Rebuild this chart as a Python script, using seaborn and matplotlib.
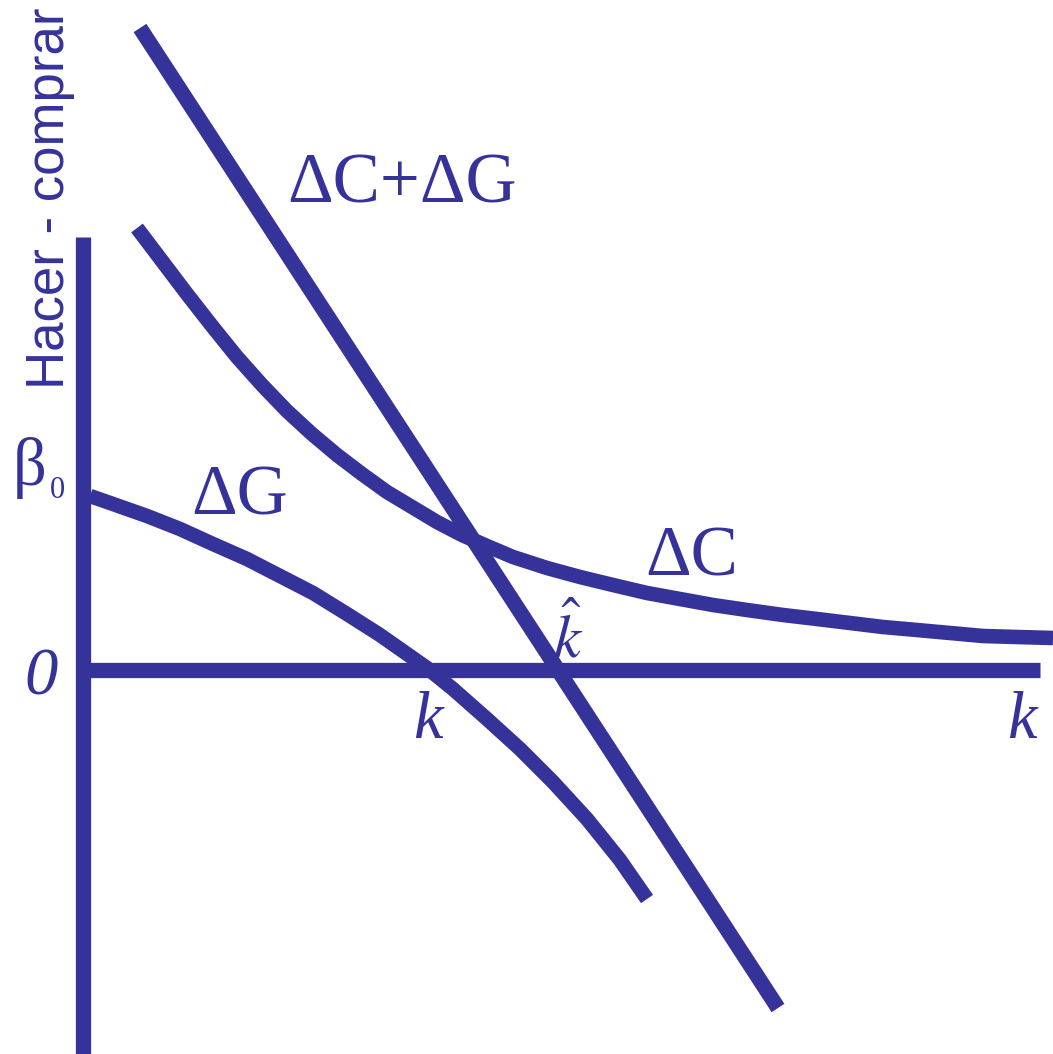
import matplotlib
matplotlib.use("Agg")
import matplotlib.pyplot as plt
import seaborn as sns
import pandas as pd

sns.set_style("white")
plt.rcParams['font.family'] = ['Liberation Serif', 'DejaVu Serif']

COLOR = "#35339A"

# Curves (x, y); origin at the axes crossing
dc_x = [0.54, 0.79, 1.04, 1.29, 1.54, 1.79, 2.04, 2.29, 2.54, 2.79, 3.04, 3.29, 3.54, 3.79, 4.04,
        4.30, 4.64, 4.97, 5.30, 5.64, 5.97, 6.30, 6.64, 7.00, 7.34, 7.67, 8.00, 8.34, 8.67, 9.00, 9.34, 9.70]
dc_y = [4.42, 4.09, 3.76, 3.44, 3.13, 2.85, 2.59, 2.36, 2.15, 1.96, 1.78, 1.63, 1.48, 1.35, 1.24,
        1.13, 1.02, 0.93, 0.85, 0.77, 0.71, 0.65, 0.60, 0.55, 0.51, 0.47, 0.43, 0.40, 0.37, 0.34, 0.33, 0.32]

dg_x = [0.07, 0.30, 0.64, 0.97, 1.30, 1.64, 1.97, 2.30, 2.64, 2.97, 3.44, 3.70, 4.04, 4.37, 4.70, 5.04, 5.37, 5.64]
dg_y = [1.74, 1.66, 1.54, 1.41, 1.26, 1.11, 0.94, 0.77, 0.56, 0.35, 0.02, -0.19, -0.49, -0.79, -1.12, -1.49, -1.90, -2.29]

sum_x = [0.57, 6.95]
sum_y = [6.42, -3.38]

axis_x_end = 9.57
axis_y_top = 4.33
axis_y_bottom = -3.84

XLIM = (-0.83, 9.70)
YLIM = (-3.84, 6.70)

fig = plt.figure(figsize=(10.53, 10.54), dpi=100)
ax = fig.add_axes([0, 0, 1, 1])

lw_axis = 11
lw_curve = 10.5
ax.plot([0, 0], [axis_y_bottom, axis_y_top], color=COLOR, lw=lw_axis, solid_capstyle="butt")
ax.plot([0, axis_x_end], [0, 0], color=COLOR, lw=lw_axis, solid_capstyle="butt")

sns.lineplot(data=pd.DataFrame({"x": sum_x, "y": sum_y}), x="x", y="y", ax=ax,
             color=COLOR, lw=lw_curve + 0.5, sort=False)
sns.lineplot(data=pd.DataFrame({"x": dc_x, "y": dc_y}), x="x", y="y", ax=ax,
             color=COLOR, lw=lw_curve, sort=False)
sns.lineplot(data=pd.DataFrame({"x": dg_x, "y": dg_y}), x="x", y="y", ax=ax,
             color=COLOR, lw=lw_curve, sort=False)
for ln in ax.lines:
    ln.set_solid_capstyle("butt")
    ln.set_solid_joinstyle("round")
ax.set_xlim(*XLIM)
ax.set_ylim(*YLIM)
ax.axis("off")

fs = 51
ax.text(3.19, 4.85, "ΔC+ΔG", color=COLOR, fontsize=fs, ha="center", va="center")
ax.text(1.57, 1.73, "ΔG", color=COLOR, fontsize=fs, ha="center", va="center")
ax.text(6.09, 1.12, "ΔC", color=COLOR, fontsize=fs, ha="center", va="center")
ax.text(-0.42, -0.08, "0", color=COLOR, fontsize=48, ha="center", va="center", style="italic")
ax.text(3.45, -0.52, "k", color=COLOR, fontsize=48, ha="center", va="center", style="italic")
ax.text(9.39, -0.52, "k", color=COLOR, fontsize=48, ha="center", va="center", style="italic")
ax.text(4.85, 0.32, r"$\hat{k}$", color=COLOR, fontsize=44, ha="center", va="center",
        math_fontfamily="stix")
ax.text(-0.53, 2.02, "β", color=COLOR, fontsize=48, ha="center", va="center")
ax.text(-0.26, 1.80, "0", color=COLOR, fontsize=22, ha="center", va="center")
ax.text(-0.33, 4.72, "Hacer - comprar", color=COLOR, fontsize=38, rotation=90,
        ha="center", va="center", family=["Liberation Sans", "DejaVu Sans"])

fig.savefig("out.png", dpi=100)
